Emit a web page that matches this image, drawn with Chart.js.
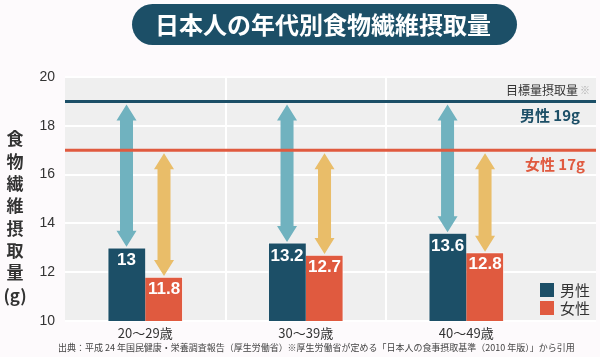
<!DOCTYPE html>
<html><head><meta charset="utf-8">
<script src="https://cdn.jsdelivr.net/npm/chart.js@4"></script>
<style>
html,body{margin:0;padding:0;background:#fdfafc;}
#wrap{position:relative;width:600px;height:357px;}
</style></head><body>
<div id="wrap"><canvas id="c" width="600" height="357"></canvas></div>
<script>
const categories = ['20～29歳','30～39歳','40～49歳'];
const maleValues = [13, 13.2, 13.6];
const femaleValues = [11.8, 12.7, 12.8];
const maleTarget = 19;
const femaleTarget = 17;
const yTicks = [10,12,14,16,18,20];
const title = '日本人の年代別食物繊維摂取量';
const yTitle = ['食','物','繊','維','摂','取','量','(g)'];
const footnote = '出典：平成 24 年国民健康・栄養調査報告（厚生労働省）※厚生労働省が定める「日本人の食事摂取基準（2010 年版）」から引用';

const NAVY='#1c4f67', RED='#e05a3f', LBLUE='#70b2bf', GOLD='#e9bd69', TXT='#333333';
const JP = '"Noto Sans CJK JP","Liberation Sans",sans-serif';
const LAT = '"Liberation Sans","Noto Sans CJK JP",sans-serif';

const decor = {
  id:'decor',
  beforeDraw(chart){
    const {ctx, chartArea:a} = chart;
    ctx.save();
    ctx.fillStyle='#efefef';
    ctx.fillRect(a.left, a.top, a.right-a.left, a.bottom-a.top);
    ctx.restore();
  },
  afterDatasetsDraw(chart){
    const {ctx, chartArea:a, scales} = chart;
    const y = scales.y;
    ctx.save();
    const arrow = (x, yTop, yBot, color) => {
      const sw=6.5, hw=10, hl=16;
      ctx.fillStyle=color;
      ctx.beginPath();
      ctx.moveTo(x, yTop);
      ctx.lineTo(x+hw, yTop+hl);
      ctx.lineTo(x+sw, yTop+hl);
      ctx.lineTo(x+sw, yBot-hl);
      ctx.lineTo(x+hw, yBot-hl);
      ctx.lineTo(x, yBot);
      ctx.lineTo(x-hw, yBot-hl);
      ctx.lineTo(x-sw, yBot-hl);
      ctx.lineTo(x-sw, yTop+hl);
      ctx.lineTo(x-hw, yTop+hl);
      ctx.closePath();
      ctx.fill();
    };
    const mMeta = chart.getDatasetMeta(0), fMeta = chart.getDatasetMeta(1);
    mMeta.data.forEach(b => arrow(b.x, y.getPixelForValue(maleTarget)+3, b.y-1, LBLUE));
    fMeta.data.forEach(b => arrow(b.x, y.getPixelForValue(femaleTarget)+3, b.y-1, GOLD));
    ctx.lineWidth=3;
    [[maleTarget,NAVY],[femaleTarget,RED]].forEach(([v,c])=>{
      const py=y.getPixelForValue(v);
      ctx.strokeStyle=c;
      ctx.beginPath(); ctx.moveTo(a.left,py); ctx.lineTo(a.right,py); ctx.stroke();
    });
    ctx.fillStyle='#ffffff';
    ctx.font='bold 17px '+LAT;
    ctx.textAlign='center'; ctx.textBaseline='middle';
    mMeta.data.forEach((b,i)=>ctx.fillText(String(maleValues[i]), b.x, b.y+13));
    fMeta.data.forEach((b,i)=>ctx.fillText(String(femaleValues[i]), b.x, b.y+12));
    ctx.textAlign='right'; ctx.textBaseline='middle';
    ctx.font='12px '+JP; ctx.fillStyle=TXT;
    ctx.fillText('目標量摂取量', 578, y.getPixelForValue(maleTarget)-11);
    ctx.fillStyle='#aaaaaa'; ctx.font='10px '+JP;
    ctx.fillText('※', 590, y.getPixelForValue(maleTarget)-11);
    ctx.font='bold 15px '+JP; ctx.fillStyle=NAVY;
    ctx.fillText('男性 19g', 580, y.getPixelForValue(maleTarget)+14);
    ctx.fillStyle=RED;
    ctx.fillText('女性 17g', 585, y.getPixelForValue(femaleTarget)+14);
    ctx.textAlign='left';
    ctx.font='15px '+JP;
    [[NAVY,'男性',290],[RED,'女性',308]].forEach(([c,t,cy])=>{
      ctx.fillStyle=c; ctx.fillRect(540, cy-7, 14, 14);
      ctx.fillStyle=TXT; ctx.fillText(t, 560, cy);
    });
    ctx.restore();
  },
  afterDraw(chart){
    const {ctx} = chart;
    ctx.save();
    const x0=132,x1=517,y0=4,y1=45,r=(y1-y0)/2;
    ctx.fillStyle=NAVY;
    ctx.beginPath();
    ctx.moveTo(x0+r,y0); ctx.lineTo(x1-r,y0);
    ctx.arc(x1-r,y0+r,r,-Math.PI/2,Math.PI/2);
    ctx.lineTo(x0+r,y1);
    ctx.arc(x0+r,y0+r,r,Math.PI/2,Math.PI*1.5);
    ctx.closePath(); ctx.fill();
    ctx.fillStyle='#ffffff'; ctx.font='bold 24px '+JP;
    ctx.textAlign='center'; ctx.textBaseline='middle';
    ctx.fillText(title, 323, 25);
    ctx.fillStyle=TXT; ctx.font='bold 17px '+JP;
    yTitle.forEach((ch,i)=>ctx.fillText(ch, 15, 139+i*22.3));
    // footnote fitted to the reference width
    let fs=10; ctx.font=fs+'px '+JP;
    const w=ctx.measureText(footnote).width;
    fs = Math.min(10, 10*517/w);
    ctx.font=fs.toFixed(2)+'px '+JP; ctx.textAlign='left'; ctx.fillStyle='#444';
    ctx.fillText(footnote, 58, 348);
    ctx.restore();
  }
};

new Chart(document.getElementById('c'), {
  type:'bar',
  data:{
    datasets:[
      {label:'男性', data: maleValues.map((v,i)=>({x:i,y:v})), backgroundColor:NAVY, borderColor:'rgba(255,255,255,0.6)', borderWidth:{top:1,left:1,right:0,bottom:0}, barThickness:37.5},
      {label:'女性', data: femaleValues.map((v,i)=>({x:i,y:v})), backgroundColor:RED, borderColor:'rgba(255,255,255,0.6)', borderWidth:{top:1,left:0,right:1,bottom:0}, barThickness:37.5}
    ]
  },
  options:{
    responsive:false, animation:false,
    layout:{padding:{top:77,right:4,left:0,bottom:0}},
    plugins:{legend:{display:false}, tooltip:{enabled:false}},
    scales:{
      x:{
        type:'linear', min:-0.5, max:2.808, offset:false,
        afterBuildTicks(s){ s.ticks=[0,0.5,1,1.5,2].map(v=>({value:v})); },
        afterFit(s){ s.height=36; },
        grid:{offset:false, color:c=>(c.tick && c.tick.value%1!==0)?'#ffffff':'rgba(0,0,0,0)', lineWidth:2, drawTicks:false},
        border:{display:false},
        ticks:{autoSkip:false, maxRotation:0, padding:4, color:TXT, font:{family:JP,size:13},
          callback:(v)=> Number.isInteger(v) ? categories[v] : ''}
      },
      y:{
        min:10, max:20,
        afterBuildTicks(s){ s.ticks=yTicks.map(v=>({value:v})); },
        afterFit(s){ s.width=65; },
        grid:{color:'#ffffff', lineWidth:2, drawTicks:false},
        border:{display:false},
        ticks:{padding:10, color:TXT, font:{family:LAT,size:14}}
      }
    }
  },
  plugins:[decor]
});
</script>
</body></html>
